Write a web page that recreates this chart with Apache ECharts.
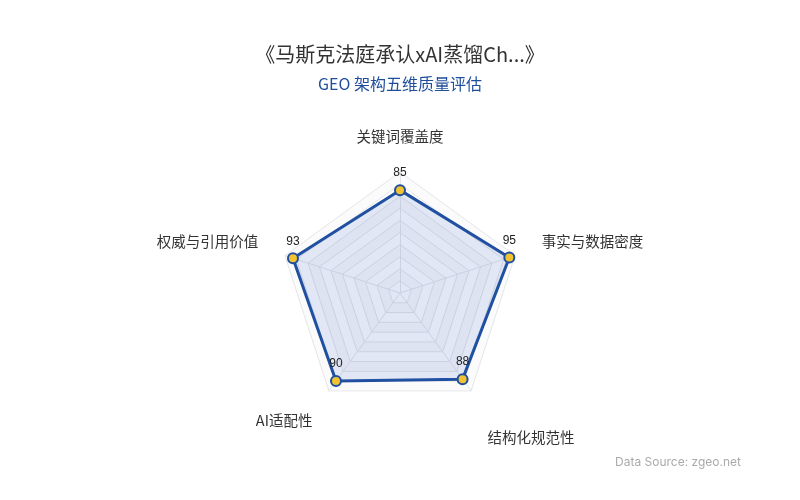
<!DOCTYPE html>
<html>
<head>
<meta charset="utf-8">
<script src="https://cdn.jsdelivr.net/npm/echarts@6/dist/echarts.min.js"></script>
<style>
html,body{margin:0;padding:0;background:#fff;}
#c{width:800px;height:500px;}
</style>
</head>
<body>
<div id="c"></div>
<script>
const indicators = ['关键词覆盖度', '权威与引用价值', 'AI适配性', '结构化规范性', '事实与数据密度'];
const scores = [85, 93, 90, 88, 95];
const maxValue = 100;

const nameStyleKey = {
  '关键词覆盖度': 'top',
  '权威与引用价值': 'side',
  'AI适配性': 'bl',
  '结构化规范性': 'br',
  '事实与数据密度': 'side'
};

const chart = echarts.init(document.getElementById('c'), null, {renderer: 'canvas'});
chart.setOption({
  backgroundColor: '#ffffff',
  textStyle: {fontFamily: '"Noto Sans CJK SC", "Noto Sans", sans-serif'},
  title: [{
    text: '《马斯克法庭承认xAI蒸馏Ch...》',
    subtext: 'GEO 架构五维质量评估',
    left: 'center',
    top: 39,
    itemGap: 12,
    textStyle: {fontSize: 20, fontWeight: 'normal', color: '#333333'},
    subtextStyle: {fontSize: 16, color: '#1f4e9c'}
  }, {
    text: 'Data Source: zgeo.net',
    right: 54,
    bottom: 27,
    textStyle: {fontSize: 12, fontWeight: 'normal', color: '#aaaaaa', fontFamily: 'Inter, Roboto, sans-serif'}
  }],
  radar: {
    center: ['50%', 293],
    radius: 121,
    splitNumber: 10,
    indicator: indicators.map(n => ({name: n, max: maxValue})),
    axisName: {
      color: '#333333',
      fontSize: 14.5,
      formatter: function (v) { return '{' + nameStyleKey[v] + '|' + v + '}'; },
      rich: {
        top: {fontSize: 14.5, color: '#333333'},
        side: {fontSize: 14.5, color: '#333333', padding: [0, 0, 10, 0]},
        bl: {fontSize: 14.5, color: '#333333', padding: [14, 0, 0, 0]},
        br: {fontSize: 14.5, color: '#333333', padding: [48, 0, 0, 0]}
      }
    },
    nameGap: 28,
    axisLine: {lineStyle: {color: '#e4e6ea'}},
    splitLine: {lineStyle: {color: '#e4e6ea'}},
    splitArea: {areaStyle: {color: ['#ffffff', '#fbfbfc']}}
  },
  series: [{
    type: 'radar',
    symbol: 'circle',
    symbolSize: 10,
    data: [{
      value: scores,
      name: 'GEO',
      lineStyle: {color: '#1f4fa0', width: 3},
      itemStyle: {color: '#f2c230', borderColor: '#1f4fa0', borderWidth: 2},
      areaStyle: {color: 'rgba(60,100,180,0.22)'},
      label: {show: true, position: 'top', distance: 5, color: '#222222', fontSize: 12, fontFamily: '"Liberation Sans", Arial, sans-serif'}
    }]
  }]
});
</script>
</body>
</html>
